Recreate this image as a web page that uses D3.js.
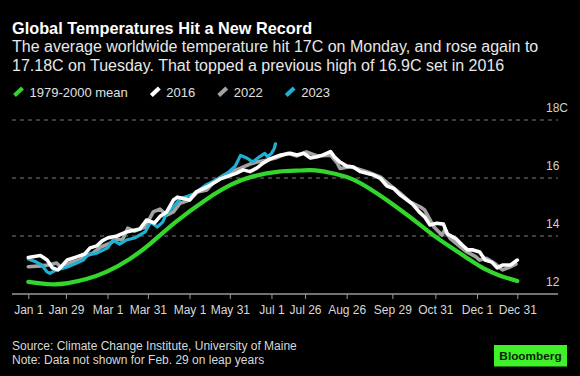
<!DOCTYPE html>
<html>
<head>
<meta charset="utf-8">
<script src="https://cdn.jsdelivr.net/npm/d3@7"></script>
<style>
  html, body { margin: 0; padding: 0; background: #000; }
  svg { display: block; }
  text { font-family: "Liberation Sans", Arial, sans-serif; }
</style>
</head>
<body>
<svg id="chart" width="580" height="376"></svg>
<script>
// ---------- DATA (day of year 0 = Jan 1, temperature in °C) ----------
const tickDays   = [0, 28, 59, 89, 120, 150, 181, 206, 237, 271, 303, 334, 364];
const tickLabels = ["Jan 1","Jan 29","Mar 1","Mar 31","May 1","May 31","Jul 1","Jul 26","Aug 26","Sep 29","Oct 31","Dec 1","Dec 31"];
const yTicks      = [12, 14, 16, 18];
const yTickLabels = ["12", "14", "16", "18C"];

const seriesNames = ["1979-2000 mean", "2016", "2022", "2023"];

const mean7900 = [[0,12.42],[18,12.31],[29,12.36],[43,12.5],[58,12.73],[76,13.2],[91,13.72],[108,14.45],[133,15.3],[152,15.82],[167,16.08],[187,16.25],[204,16.25],[212,16.3],[230,16.14],[242,15.97],[254,15.64],[267,15.24],[277,14.9],[289,14.49],[301,14.03],[314,13.63],[327,13.23],[339,12.86],[351,12.62],[364,12.45]];

const y2016 = [[0,13.26],[9,13.33],[14,13.17],[18,12.9],[22,12.83],[25,12.97],[29,13.17],[36,13.28],[42,13.38],[46,13.59],[51,13.66],[55,13.83],[59,13.93],[66,14.0],[73,14.14],[83,14.24],[88,14.55],[94,14.45],[98,14.67],[103,14.83],[108,15.24],[111,15.34],[117,15.28],[120,15.24],[125,15.52],[133,15.69],[138,15.83],[143,15.97],[148,16.05],[155,16.17],[160,16.28],[165,16.22],[170,16.34],[175,16.52],[180,16.66],[187,16.78],[195,16.85],[200,16.79],[205,16.85],[210,16.69],[215,16.73],[219,16.79],[225,16.91],[228,16.72],[232,16.55],[237,16.41],[242,16.38],[247,16.22],[252,16.16],[257,16.1],[262,15.99],[267,15.72],[272,15.64],[277,15.41],[282,15.24],[286,15.1],[291,14.83],[295,14.66],[299,14.38],[304,14.44],[309,14.41],[312,14.07],[318,13.92],[323,13.69],[327,13.52],[331,13.52],[336,13.45],[340,13.17],[345,13.1],[349,12.9],[353,13.0],[359,13.0],[364,13.17]];

const y2022 = [[0,12.94],[9,12.97],[15,13.0],[21,13.07],[25,12.89],[31,13.07],[38,13.17],[44,13.34],[48,13.41],[54,13.62],[61,13.75],[66,13.9],[70,13.86],[74,14.27],[79,14.17],[87,14.31],[93,14.83],[98,14.93],[103,14.72],[108,14.83],[113,15.13],[120,15.24],[126,15.52],[133,15.59],[139,15.9],[148,16.16],[158,16.34],[165,16.48],[170,16.55],[178,16.62],[184,16.69],[193,16.85],[200,16.76],[207,16.9],[215,16.76],[225,16.79],[230,16.51],[232,16.33],[240,16.39],[252,16.22],[262,16.04],[269,15.76],[277,15.47],[284,15.18],[292,15.0],[295,14.9],[302,14.31],[308,14.03],[310,14.21],[314,13.92],[320,13.69],[326,13.46],[333,13.29],[336,13.17],[341,13.23],[347,13.06],[353,12.83],[359,12.94],[363,13.03]];

const y2023 = [[0,13.21],[6,13.1],[10,13.0],[14,12.76],[16,12.71],[21,12.83],[29,12.93],[36,13.07],[41,13.17],[44,13.34],[51,13.41],[59,13.59],[63,13.86],[68,13.72],[73,13.86],[79,13.93],[87,14.14],[91,14.48],[96,14.31],[100,14.48],[103,14.79],[108,15.0],[113,15.28],[123,15.45],[133,15.78],[140,15.93],[148,16.16],[154,16.41],[158,16.78],[163,16.68],[167,16.55],[172,16.73],[176,16.85],[178,16.73],[181,16.85],[183,17.01],[184,17.18]];

const colors = { mean: "#33d62b", y2016: "#ffffff", y2022: "#a3a3a3", y2023: "#1fb0d4" };

// ---------- LAYOUT ----------
const svg = d3.select("#chart");
svg.append("rect").attr("width", 580).attr("height", 376).attr("fill", "#000");

const x = d3.scaleLinear().domain([0, 364]).range([28.3, 517.3]);
const y = d3.scaleLinear().domain([12, 18]).range([294, 120]);
const gridX0 = 12, gridX1 = 558;

// Title & subtitle
svg.append("text").attr("x", 12).attr("y", 33.5)
  .attr("fill", "#fff").attr("font-size", 16.3).attr("font-weight", "bold")
  .text("Global Temperatures Hit a New Record");
const sub = ["The average worldwide temperature hit 17C on Monday, and rose again to",
             "17.18C on Tuesday. That topped a previous high of 16.9C set in 2016"];
svg.selectAll("text.sub").data(sub).enter().append("text").attr("class", "sub")
  .attr("x", 12).attr("y", (d, i) => 52 + i * 18.5)
  .attr("fill", "#e8e8e8").attr("font-size", 16)
  .text(d => d);

// Legend
const legendItems = [
  { name: seriesNames[0], color: colors.mean },
  { name: seriesNames[1], color: colors.y2016 },
  { name: seriesNames[2], color: colors.y2022 },
  { name: seriesNames[3], color: colors.y2023 }
];
let lx = 13;
legendItems.forEach(item => {
  const g = svg.append("g");
  g.append("line").attr("x1", lx + 1.5).attr("y1", 95.5).attr("x2", lx + 9.5).attr("y2", 88)
    .attr("stroke", item.color).attr("stroke-width", 4.2);
  const t = g.append("text").attr("x", lx + 16.5).attr("y", 96.7)
    .attr("fill", "#e0e0e0").attr("font-size", 13).text(item.name);
  const w = t.node().getComputedTextLength();
  lx = lx + 16.5 + w + 22;
});

// Gridlines (dashed) for 14,16,18
svg.append("g").selectAll("line").data(yTicks.filter(v => v > 12)).enter().append("line")
  .attr("x1", gridX0).attr("x2", gridX1)
  .attr("y1", d => y(d)).attr("y2", d => y(d))
  .attr("stroke", "#7a7a7a").attr("stroke-width", 1).attr("stroke-dasharray", "4,4");

// Y labels
svg.append("g").selectAll("text").data(yTicks).enter().append("text")
  .attr("x", 546).attr("y", d => y(d) - 8)
  .attr("fill", "#d0d0d0").attr("font-size", 12)
  .text((d, i) => yTickLabels[i]);

// X axis
const xAxis = d3.axisBottom(x).tickValues(tickDays)
  .tickFormat((d, i) => tickLabels[i]).tickSize(5).tickPadding(6);
const gx = svg.append("g").attr("transform", `translate(0,${y(12)})`).call(xAxis);
gx.select(".domain").remove();
gx.selectAll(".tick line").attr("stroke", "#999").attr("stroke-width", 1);
gx.selectAll(".tick text").attr("fill", "#d8d8d8").attr("font-size", 12)
  .attr("font-family", "'Liberation Sans', Arial, sans-serif");
svg.append("line").attr("x1", gridX0).attr("x2", gridX1).attr("y1", y(12)).attr("y2", y(12))
  .attr("stroke", "#999").attr("stroke-width", 1.5);

// Lines
const lineSmooth = d3.line().x(d => x(d[0])).y(d => y(d[1])).curve(d3.curveBasis);
const lineRaw = d3.line().x(d => x(d[0])).y(d => y(d[1])).curve(d3.curveLinear);

svg.append("path").datum(mean7900).attr("d", lineSmooth)
  .attr("fill", "none").attr("stroke", colors.mean).attr("stroke-width", 4.2)
  .attr("stroke-linejoin", "round").attr("stroke-linecap", "round");
svg.append("path").datum(y2022).attr("d", lineRaw)
  .attr("fill", "none").attr("stroke", colors.y2022).attr("stroke-width", 3.6)
  .attr("stroke-linejoin", "round").attr("stroke-linecap", "round");
svg.append("path").datum(y2023).attr("d", lineRaw)
  .attr("fill", "none").attr("stroke", colors.y2023).attr("stroke-width", 3.2)
  .attr("stroke-linejoin", "round").attr("stroke-linecap", "round");
svg.append("path").datum(y2016).attr("d", lineRaw)
  .attr("fill", "none").attr("stroke", colors.y2016).attr("stroke-width", 3.6)
  .attr("stroke-linejoin", "round").attr("stroke-linecap", "round");

// Footer
svg.append("text").attr("x", 12).attr("y", 350).attr("fill", "#d8d8d8").attr("font-size", 12)
  .text("Source: Climate Change Institute, University of Maine");
svg.append("text").attr("x", 12).attr("y", 364).attr("fill", "#d8d8d8").attr("font-size", 12)
  .text("Note: Data not shown for Feb. 29 on leap years");
svg.append("rect").attr("x", 494).attr("y", 345).attr("width", 73).attr("height", 21.5)
  .attr("fill", "#3ef227");
svg.append("text").attr("x", 530.5).attr("y", 360).attr("text-anchor", "middle")
  .attr("fill", "#0b1f0b").attr("font-size", 11.8).attr("font-weight", "bold")
  .text("Bloomberg");
</script>
</body>
</html>
